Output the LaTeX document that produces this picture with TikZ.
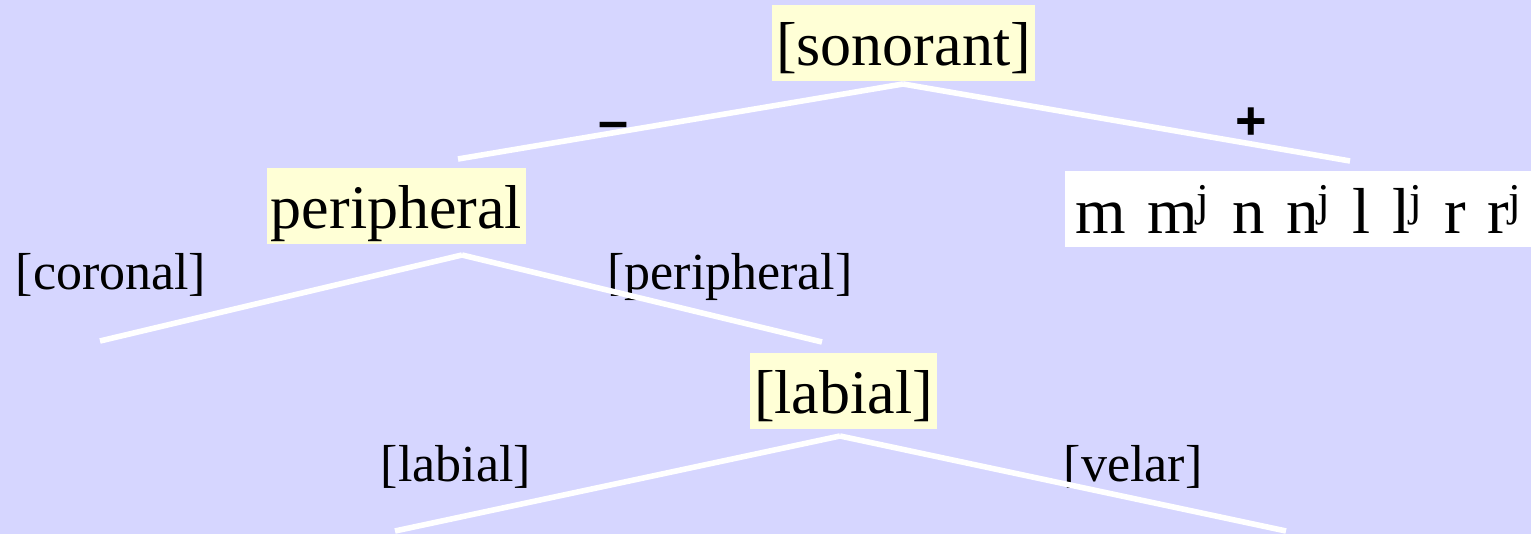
\documentclass[tikz,border=0pt]{standalone}
\usepackage{fontspec}
\setmainfont{Liberation Serif}
\setsansfont{Liberation Sans}
\definecolor{bgblue}{RGB}{214,214,255}
\definecolor{featyellow}{RGB}{255,255,214}
\newcommand{\pal}{\kern-0.02em\textsuperscript{j}}

\begin{document}
\begin{tikzpicture}[x=0.5pt,y=-0.5pt,
  feat/.style={fill=featyellow,inner xsep=2pt,inner ysep=1pt,text height=29.5pt,text depth=6.5pt,
    font=\fontsize{31}{36}\selectfont},
  seg/.style={fill=white,anchor=west,inner xsep=5pt,inner ysep=1pt,text height=30.5pt,text depth=5.5pt,
    text width=240pt,align=left,font=\fontsize{32.5}{40}\selectfont},
  lab/.style={anchor=base,inner sep=0pt,font=\fontsize{26}{30}\selectfont},
  sign/.style={anchor=base,inner sep=0pt,font=\fontsize{27}{30}\sffamily\bfseries},
  edge/.style={draw=white,line width=2.8pt}]

  \useasboundingbox (0,0) rectangle (1531,534);
  \fill[bgblue] (0,0) rectangle (1531,534);

  % branch labels
  \node[lab] (lcor) at (111,289.5) {[coronal]};
  \node[lab] (lper) at (730,289.5) {[peripheral]};
  \node[lab] (llab) at (456,481) {[labial]};
  \node[lab] (lvel) at (1133,481) {[velar]};
  \node[sign] (minus) at (614,139.5) {--};
  \node[sign] (plus) at (1251,139.5) {+};

  % apex and free ends of the branches
  \coordinate (sa) at (903,84);
  \coordinate (sl) at (458,159);
  \coordinate (sr) at (1350,161);
  \coordinate (pa) at (462,255);
  \coordinate (pl) at (100,341);
  \coordinate (pr) at (822,342);
  \coordinate (la) at (840,436);
  \coordinate (ll) at (395,531);
  \coordinate (lr) at (1286,531);

  \draw[edge] (sa) -- (sl);
  \draw[edge] (sa) -- (sr);
  \draw[edge] (pa) -- (pl);
  \draw[edge] (pa) -- (pr);
  \draw[edge] (la) -- (ll);
  \draw[edge] (la) -- (lr);

  % feature boxes
  \node[feat] (son) at (903.5,43) {[sonorant]};
  \node[feat] (per) at (396.5,206) {peripheral};
  \node[feat] (lab) at (843.5,390.5) {[labial]};
  \node[seg] (segs) at (1065,209)
    {\mbox{m m\pal{} n n\pal{} l l\pal{} r r\pal}};
\end{tikzpicture}
\end{document}
